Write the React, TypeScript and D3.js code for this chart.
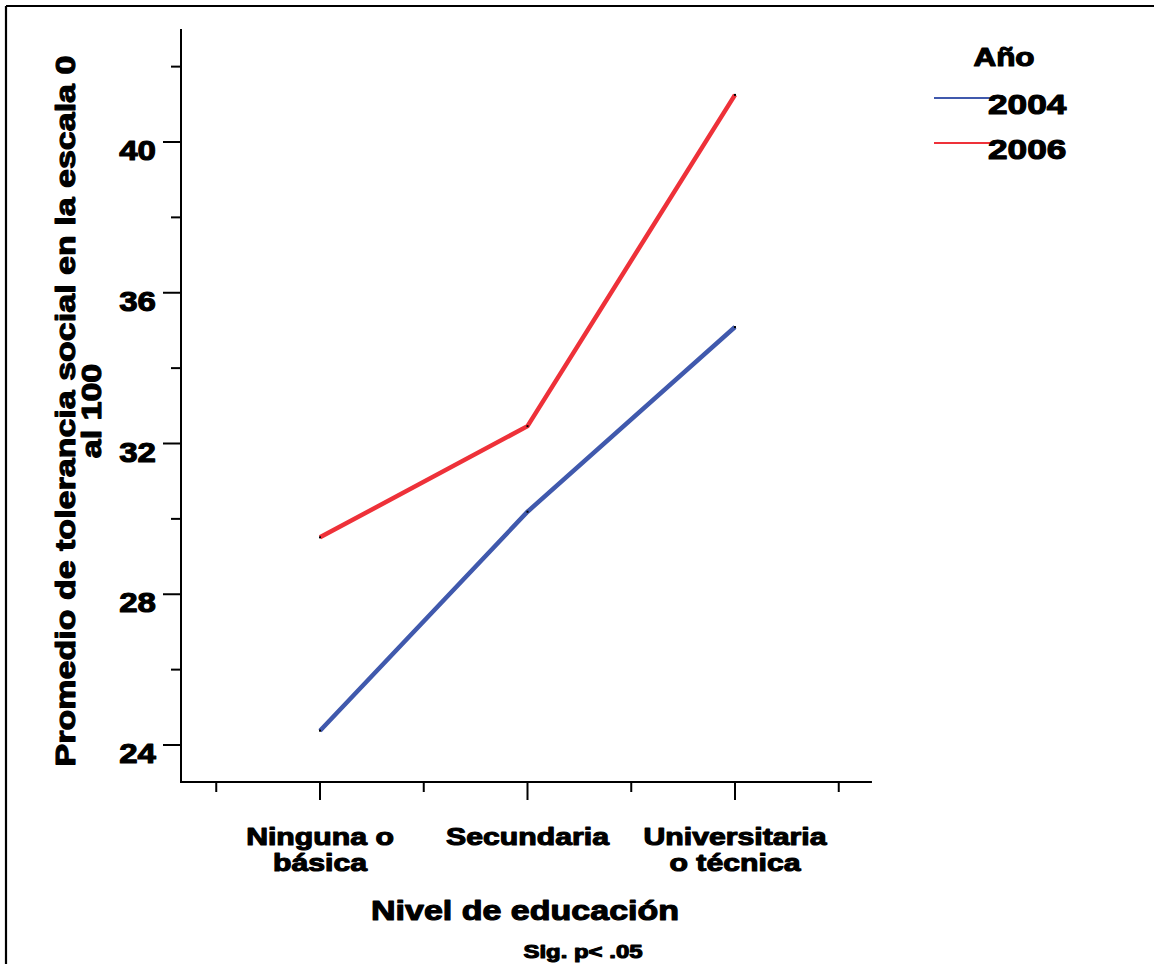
import React from "react";
import * as d3 from "d3";

const categories = [["Ninguna o", "básica"], ["Secundaria"], ["Universitaria", "o técnica"]];
const years = ["2004", "2006"];
const values2004 = [24.38, 30.19, 35.09];
const values2006 = [29.51, 32.46, 41.25];
const colors = ["#4059AD", "#EE3139"];
const yMajorTicks = [24, 28, 32, 36, 40];
const yMinorTicks = [26, 30, 34, 38, 42];
const xMinorTicks = [0.5, 1.5, 2.5, 3.5];

const FONT = "'Liberation Sans', Arial, sans-serif";

function T(props: { x: number; y: number; size: number; sx?: number; anchor?: "start" | "middle" | "end"; dy?: string; children: React.ReactNode }) {
  const { x, y, size, sx = 1.26, anchor = "start", dy, children } = props;
  return (
    <text
      transform={`translate(${x},${y}) scale(${sx},1)`}
      dy={dy}
      textAnchor={anchor}
      fontSize={size}
      fontFamily={FONT}
      fontWeight={700}
      fill="#000"
      stroke="#000"
      strokeWidth={1.1}
      strokeLinejoin="round"
    >
      {children}
    </text>
  );
}

export default function App() {
  const y = d3.scaleLinear().domain([24, 40]).range([745, 142]);
  const x = d3.scaleLinear().domain([1, 3]).range([320, 735]);
  const series = [values2004, values2006];
  const line = d3
    .line<number>()
    .x((_, i) => x(i + 1))
    .y((d) => y(d));
  const axisX = 181;
  const axisY = 782;
  const yTop = y(43);
  const xRight = x(3.66);

  return (
    <svg width={1154} height={964} style={{ position: "absolute", left: 0, top: 0, background: "#fff" }}>
      <rect x={0} y={0} width={1154} height={964} fill="#fff" />
      {/* frame */}
      <line x1={6} y1={6} x2={1154} y2={6} stroke="#000" strokeWidth={2.2} />
      <line x1={6} y1={6} x2={6} y2={964} stroke="#000" strokeWidth={2.2} />

      {/* y axis */}
      <line x1={axisX} y1={yTop} x2={axisX} y2={axisY + 1} stroke="#000" strokeWidth={2} />
      {yMajorTicks.map((t) => (
        <g key={"ym" + t}>
          <line x1={axisX - 18} x2={axisX} y1={y(t)} y2={y(t)} stroke="#000" strokeWidth={2} />
          <T x={axisX - 25} y={y(t) + 18} anchor="end" size={28} sx={1.18}>
            {t}
          </T>
        </g>
      ))}
      {yMinorTicks.map((t) => (
        <line key={"yn" + t} x1={axisX - 10} x2={axisX} y1={y(t)} y2={y(t)} stroke="#000" strokeWidth={2} />
      ))}

      {/* x axis */}
      <line x1={axisX - 1} y1={axisY} x2={xRight} y2={axisY} stroke="#000" strokeWidth={2} />
      {categories.map((c, i) => (
        <g key={"xm" + i}>
          <line x1={x(i + 1)} x2={x(i + 1)} y1={axisY} y2={axisY + 18} stroke="#000" strokeWidth={2} />
          {c.map((ln, j) => (
            <T key={j} x={x(i + 1)} y={845 + j * 26} anchor="middle" size={24}>
              {ln}
            </T>
          ))}
        </g>
      ))}
      {xMinorTicks.map((t) => (
        <line key={"xn" + t} x1={x(t)} x2={x(t)} y1={axisY} y2={axisY + 10} stroke="#000" strokeWidth={2} />
      ))}

      {/* axis titles */}
      <T x={525} y={920} anchor="middle" size={27}>
        Nivel de educación
      </T>
      <T x={583} y={958} anchor="middle" size={19}>
        Sig. p&lt; .05
      </T>
      <g transform="translate(75,411) rotate(-90)">
        <T x={0} y={0} anchor="middle" size={27}>
          Promedio de tolerancia social en la escala 0
        </T>
        <T x={0} y={26} anchor="middle" size={27}>
          al 100
        </T>
      </g>

      {/* lines */}
      {series.map((s, k) => (
        <g key={"s" + k}>
          <path d={line(s) || ""} fill="none" stroke={colors[k]} strokeWidth={4.5} strokeLinejoin="miter" />
          {s.map((v, i) => (
            <rect key={i} x={x(i + 1) - 1} y={y(v) - 1} width={2} height={2} fill="#000" />
          ))}
        </g>
      ))}

      {/* legend */}
      <T x={1004} y={66} anchor="middle" size={25}>
        Año
      </T>
      {years.map((yr, k) => (
        <g key={"lg" + yr}>
          <line x1={934} x2={992} y1={98 + k * 45} y2={98 + k * 45} stroke={colors[k]} strokeWidth={2} />
          <T x={988} y={114 + k * 45} size={28}>
            {yr}
          </T>
        </g>
      ))}
    </svg>
  );
}
